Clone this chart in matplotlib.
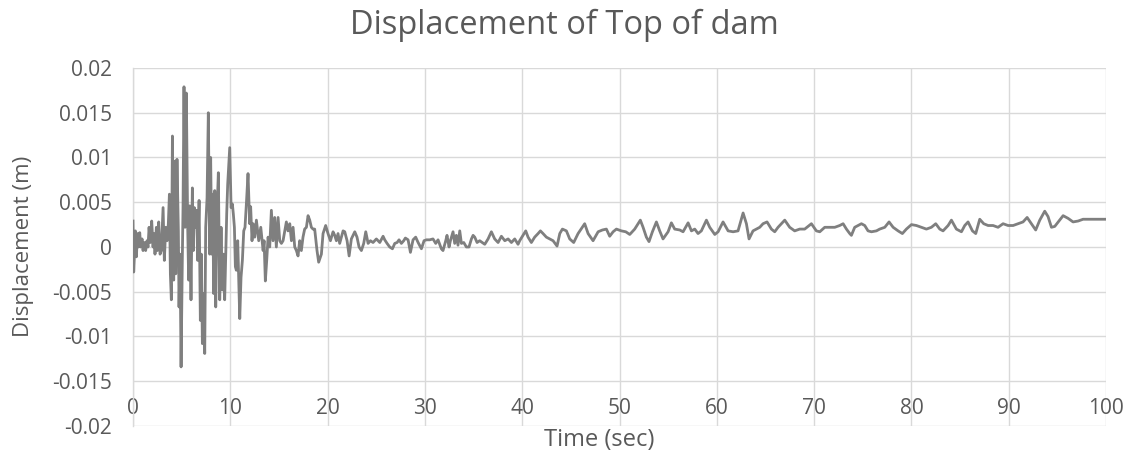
import matplotlib
matplotlib.use("Agg")
import matplotlib.pyplot as plt
import numpy as np

# --- Top-of-dam displacement record (time in s, displacement in m) ---
# Strong shaking phase, 0-12 s
t_strong = [0.00, 0.07, 0.14, 0.24, 0.35, 0.45, 0.55, 0.69, 0.79, 0.93,
            1.03, 1.17, 1.30, 1.44, 1.54, 1.65, 1.78, 1.92, 2.06, 2.16,
            2.26, 2.40, 2.50, 2.64, 2.78, 2.91, 3.09, 3.22, 3.36, 3.50,
            3.63, 3.74, 3.84, 3.94, 4.05, 4.18, 4.32, 4.39, 4.52, 4.66,
            4.73, 4.83, 4.94, 5.07, 5.14, 5.24, 5.35, 5.48, 5.62, 5.72,
            5.83, 5.96, 6.10, 6.20, 6.30, 6.44, 6.54, 6.65, 6.79, 6.92,
            7.02, 7.13, 7.23, 7.37, 7.47, 7.61, 7.74, 7.88, 7.98, 8.09,
            8.19, 8.29, 8.40, 8.50, 8.64, 8.77, 8.91, 9.05, 9.18, 9.32,
            9.42, 9.53, 9.63, 9.73, 9.94, 10.08, 10.21, 10.31, 10.42, 10.52,
            10.62, 10.76, 10.86, 10.97, 11.10, 11.24, 11.38, 11.51, 11.65, 11.82]
d_strong = [0.0029, -0.0028, -0.0011, 0.0018, -0.0011, 0.0015, 0.0000, 0.0016, 0.0000, 0.0009,
            -0.0004, 0.0005, -0.0004, 0.0007, 0.0000, 0.0022, 0.0005, 0.0029, 0.0000, 0.0015,
            -0.0008, 0.0022, -0.0004, 0.0028, -0.0008, -0.0004, 0.0044, -0.0015, 0.0022, 0.0007,
            0.0026, 0.0059, -0.0030, -0.0059, 0.0124, -0.0037, 0.0096, -0.0030, 0.0098, 0.0018,
            -0.0067, -0.0008, -0.0134, -0.0011, 0.0044, 0.0179, 0.0022, 0.0172, 0.0022, -0.0037,
            0.0046, -0.0059, 0.0066, -0.0004, 0.0044, 0.0022, 0.0041, -0.0015, 0.0052, -0.0082,
            -0.0008, -0.0108, -0.0052, -0.0119, 0.0022, 0.0055, 0.0150, -0.0008, 0.0100, -0.0008,
            0.0059, -0.0052, 0.0063, -0.0067, 0.0041, 0.0083, -0.0059, 0.0022, -0.0048, -0.0008,
            -0.0059, -0.0008, 0.0037, 0.0070, 0.0111, 0.0044, 0.0048, 0.0037, 0.0022, -0.0022,
            -0.0026, 0.0007, -0.0034, -0.0080, -0.0034, -0.0015, 0.0018, 0.0022, 0.0048, 0.0082]

# Decay phase, 12-35 s
t_decay = [11.99, 12.09, 12.23, 12.34, 12.51, 12.68, 12.92, 13.13, 13.37, 13.47,
           13.60, 13.74, 13.88, 14.05, 14.22, 14.39, 14.56, 14.73, 14.91, 15.08,
           15.25, 15.42, 15.76, 15.93, 16.11, 16.28, 16.45, 16.62, 16.79, 16.96,
           17.13, 17.30, 17.47, 17.64, 17.82, 17.99, 18.16, 18.33, 18.50, 18.67,
           18.91, 19.08, 19.36, 19.53, 19.80, 20.04, 20.29, 20.56, 20.73, 20.90,
           21.07, 21.24, 21.59, 21.76, 22.00, 22.21, 22.44, 22.79, 23.02, 23.23,
           23.47, 23.71, 23.92, 24.16, 24.40, 24.67, 25.01, 25.36, 25.70, 25.87,
           26.11, 26.38, 26.66, 26.90, 27.14, 27.34, 27.58, 27.82, 27.99, 28.27,
           28.51, 28.78, 29.05, 29.30, 29.64, 29.91, 30.15, 30.49, 30.83, 31.11,
           31.35, 31.69, 31.86, 32.14, 32.27, 32.48, 32.62, 32.89, 33.06, 33.23,
           33.40, 33.58, 33.75, 33.99, 34.26, 34.53, 34.78, 34.95, 35.12, 35.36]
d_decay = [0.0026, 0.0045, 0.0007, 0.0026, 0.0011, 0.0030, 0.0007, 0.0022, -0.0004, 0.0007,
           -0.0038, -0.0015, 0.0011, 0.0000, 0.0041, 0.0007, 0.0033, 0.0000, 0.0033, 0.0007,
           0.0004, 0.0007, 0.0028, 0.0018, 0.0026, 0.0007, 0.0022, 0.0000, -0.0004, -0.0010,
           0.0007, -0.0004, 0.0011, 0.0020, 0.0022, 0.0035, 0.0030, 0.0022, 0.0020, 0.0020,
           -0.0004, -0.0017, -0.0008, 0.0015, 0.0024, 0.0015, 0.0007, 0.0017, 0.0013, 0.0007,
           0.0015, 0.0004, 0.0018, 0.0017, 0.0007, -0.0010, 0.0009, 0.0017, 0.0011, 0.0000,
           -0.0004, 0.0004, 0.0017, 0.0004, 0.0007, 0.0005, 0.0009, 0.0005, 0.0012, 0.0008,
           0.0004, 0.0000, -0.0002, 0.0004, 0.0005, 0.0008, 0.0004, 0.0007, 0.0010, 0.0008,
           -0.0006, 0.0008, 0.0011, 0.0005, -0.0002, 0.0007, 0.0008, 0.0008, 0.0009, 0.0004,
           0.0008, -0.0002, -0.0004, 0.0007, 0.0013, 0.0000, 0.0007, 0.0017, 0.0004, 0.0013,
           0.0002, 0.0018, 0.0004, 0.0005, 0.0000, 0.0000, 0.0009, 0.0013, 0.0011, 0.0005]

# Free-vibration phase, 35-100 s
t_late = [35.63, 36.15, 36.49, 36.83, 37.17, 37.52, 37.86, 38.21, 38.55, 38.89,
          39.23, 39.57, 39.74, 40.08, 40.36, 40.60, 40.94, 41.28, 41.63, 41.87,
          42.14, 42.48, 42.83, 43.17, 43.58, 43.86, 44.13, 44.54, 44.88, 45.29,
          45.74, 46.42, 46.77, 47.28, 47.80, 48.24, 48.65, 48.99, 49.34, 49.68,
          50.19, 50.64, 51.05, 51.56, 52.14, 52.42, 52.76, 53.03, 53.38, 53.79,
          54.13, 54.47, 54.99, 55.33, 55.67, 56.19, 56.53, 57.05, 57.39, 57.73,
          58.07, 58.41, 58.93, 59.27, 59.79, 60.13, 60.64, 61.16, 61.67, 62.18,
          62.70, 63.04, 63.31, 63.72, 64.41, 64.75, 65.16, 65.61, 65.95, 66.29,
          66.98, 67.49, 68.00, 68.52, 69.03, 69.72, 70.23, 70.58, 71.09, 71.60,
          72.12, 72.63, 72.98, 73.32, 73.66, 73.83, 74.17, 74.52, 74.86, 75.20,
          75.54, 75.89, 76.40, 76.74, 77.26, 77.70, 78.12, 78.63, 79.07, 79.48,
          80.00, 80.51, 81.03, 81.54, 82.05, 82.50, 82.91, 83.25, 83.77, 84.11,
          84.62, 85.14, 85.48, 85.82, 86.27, 86.61, 87.02, 87.43, 87.88, 88.39,
          88.90, 89.42, 89.93, 90.45, 90.96, 91.47, 91.89, 92.33, 92.77, 93.19,
          93.70, 94.04, 94.39, 94.73, 95.24, 95.59, 96.10, 96.61, 97.13, 97.64,
          98.16, 100.00]
d_late = [0.0007, 0.0003, 0.0009, 0.0017, 0.0009, 0.0005, 0.0012, 0.0007, 0.0009, 0.0005,
          0.0009, 0.0003, 0.0007, 0.0013, 0.0018, 0.0011, 0.0005, 0.0011, 0.0015, 0.0018,
          0.0015, 0.0011, 0.0009, 0.0007, 0.0001, 0.0015, 0.0020, 0.0018, 0.0009, 0.0005,
          0.0015, 0.0026, 0.0015, 0.0007, 0.0017, 0.0019, 0.0020, 0.0012, 0.0017, 0.0020,
          0.0018, 0.0017, 0.0014, 0.0020, 0.0030, 0.0022, 0.0011, 0.0006, 0.0017, 0.0028,
          0.0018, 0.0009, 0.0017, 0.0027, 0.0020, 0.0019, 0.0017, 0.0027, 0.0018, 0.0020,
          0.0015, 0.0018, 0.0030, 0.0022, 0.0014, 0.0017, 0.0028, 0.0018, 0.0017, 0.0018,
          0.0038, 0.0026, 0.0009, 0.0018, 0.0022, 0.0026, 0.0028, 0.0020, 0.0017, 0.0022,
          0.0030, 0.0022, 0.0018, 0.0020, 0.0020, 0.0026, 0.0018, 0.0017, 0.0022, 0.0022,
          0.0022, 0.0024, 0.0026, 0.0020, 0.0015, 0.0013, 0.0022, 0.0024, 0.0026, 0.0024,
          0.0018, 0.0017, 0.0018, 0.0020, 0.0022, 0.0028, 0.0022, 0.0018, 0.0015, 0.0020,
          0.0025, 0.0024, 0.0022, 0.0020, 0.0022, 0.0026, 0.0020, 0.0018, 0.0024, 0.0030,
          0.0020, 0.0017, 0.0024, 0.0028, 0.0018, 0.0015, 0.0031, 0.0026, 0.0024, 0.0024,
          0.0022, 0.0026, 0.0024, 0.0024, 0.0026, 0.0028, 0.0033, 0.0026, 0.0019, 0.0030,
          0.0040, 0.0034, 0.0022, 0.0023, 0.0030, 0.0035, 0.0032, 0.0028, 0.0029, 0.0031,
          0.0031, 0.0031]

x_ticks = [0, 10, 20, 30, 40, 50, 60, 70, 80, 90, 100]
y_ticks = [-0.02, -0.015, -0.01, -0.005, 0, 0.005, 0.01, 0.015, 0.02]
y_tick_labels = ["-0.02", "-0.015", "-0.01", "-0.005", "0", "0.005", "0.01", "0.015", "0.02"]

time_s = np.concatenate([t_strong, t_decay, t_late])
disp_m = np.concatenate([d_strong, d_decay, d_late])

TEXT = "#595959"
GRID = "#d9d9d9"
LINE = "#7f7f7f"

plt.rcParams["font.family"] = ["Open Sans", "DejaVu Sans"]

fig = plt.figure(figsize=(11.33, 4.62), dpi=100)
ax = fig.add_axes([0.1174, 0.078, 0.8588, 0.7748])

ax.plot(time_s, disp_m, color=LINE, linewidth=2.0, solid_joinstyle="round", zorder=3)

ax.set_xlim(0, 100)
ax.set_ylim(-0.02, 0.02)
ax.set_xticks(x_ticks)
ax.set_xticklabels([str(v) for v in x_ticks])
ax.set_yticks(y_ticks)
ax.set_yticklabels(y_tick_labels)

ax.grid(True, color=GRID, linewidth=1.0, zorder=0)
for side in ("top", "right", "bottom"):
    ax.spines[side].set_visible(False)
ax.spines["left"].set_color(GRID)
ax.spines["left"].set_linewidth(1.0)

ax.tick_params(axis="both", length=0, labelsize=15, labelcolor=TEXT)
ax.tick_params(axis="y", pad=15)
ax.tick_params(axis="x", pad=-12.5)
for lab in ax.get_xticklabels():
    lab.set_verticalalignment("center")

fig.text(0.498, 0.945, "Displacement of Top of dam", ha="center", va="center",
         fontsize=23.5, color=TEXT)
fig.text(0.529, 0.048, "Time (sec)", ha="center", va="center",
         fontsize=17, color=TEXT)
fig.text(0.021, 0.466, "Displacement (m)", ha="center", va="center",
         rotation=90, fontsize=16, color=TEXT)

fig.savefig("out.png", dpi=100, facecolor="white")
